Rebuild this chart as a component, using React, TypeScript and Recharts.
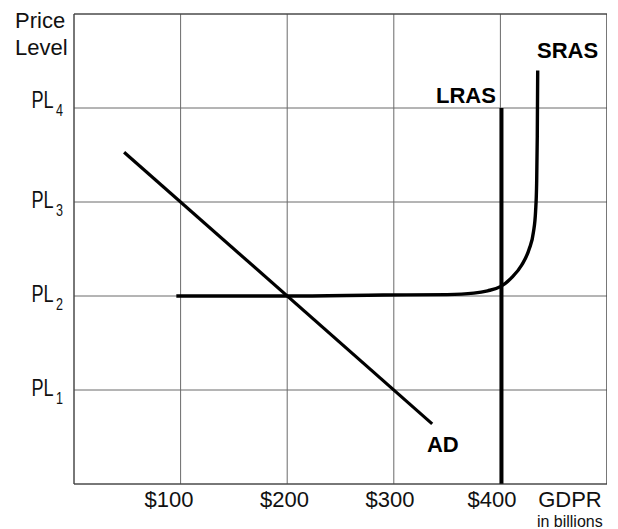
import React from 'react';
import { ComposedChart, Line, XAxis, YAxis, CartesianGrid, ReferenceLine, ReferenceDot } from 'recharts';

// ---- data ----
const xTicks = [100, 200, 300, 400];
const xTickLabels = ['$100', '$200', '$300', '$400'];
const yTicks = [1, 2, 3, 4];
const yTickSubs = ['1', '2', '3', '4'];

const adData = [
  { x: 47, y: 3.53 },
  { x: 336, y: 0.64 },
];

const lrasData = [
  { x: 401, y: 0 },
  { x: 401, y: 4 },
];

const srasData = [
  { x: 96, y: 2.0 },
  { x: 200, y: 2.0 },
  { x: 290, y: 2.01 },
  { x: 350, y: 2.015 },
  { x: 375, y: 2.03 },
  { x: 388, y: 2.055 },
  { x: 400, y: 2.1 },
  { x: 411, y: 2.2 },
  { x: 420, y: 2.33 },
  { x: 427, y: 2.5 },
  { x: 431, y: 2.68 },
  { x: 433, y: 2.9 },
  { x: 434, y: 3.2 },
  { x: 434.6, y: 3.7 },
  { x: 435, y: 4.4 },
];

const curveLabels = [
  { text: 'SRAS', x: 434.3, y: 4.537 },
  { text: 'LRAS', x: 339.6, y: 4.053 },
  { text: 'AD', x: 331.1, y: 0.34 },
];

// ---- style ----
const FONT = '"Liberation Sans", Arial, sans-serif';
const GRID = '#6a6a6a';
const BORDER = '#3a3a3a';
const xLabelDx: Record<number, number> = { 100: -11.5, 200: -2.6, 300: -3.8, 400: -8.4 };

const XTick = (props: any) => {
  const { x, payload } = props;
  const i = xTicks.indexOf(payload.value);
  return (
    <text x={x + (xLabelDx[payload.value] || 0)} y={476 + 23.3} textAnchor="middle" fontFamily={FONT} fontSize={22} fill="#111">
      {xTickLabels[i]}
    </text>
  );
};

const YTick = (props: any) => {
  const { y, payload } = props;
  const i = yTicks.indexOf(payload.value);
  const dy = payload.value === 4 ? 0.3 : 6.4;
  return (
    <g transform={`translate(23.5, ${y + dy}) scale(0.74, 1)`}>
      <text x={0} y={0} fontFamily={FONT} fontSize={24.5} fill="#111">
        PL
        <tspan dx={3} dy={7.4} fontSize={17}>{yTickSubs[i]}</tspan>
      </text>
    </g>
  );
};

const YTitle = (props: any) => {
  const vb = props.viewBox || { x: 0, y: 6 };
  return (
    <g>
      <text x={7} y={vb.y + 14.3} fontFamily={FONT} fontSize={22} fill="#111">Price</text>
      <text x={7} y={vb.y + 41} fontFamily={FONT} fontSize={22} fill="#111">Level</text>
    </g>
  );
};

const XTitle = (props: any) => {
  const vb = props.viewBox || { x: 66, y: 476, width: 533 };
  const right = vb.x + vb.width;
  return (
    <g>
      <text x={right - 5.3} y={476 + 22.7} textAnchor="end" fontFamily={FONT} fontSize={22} fill="#111">GDPR</text>
      <text x={right - 4.3} y={476 + 42.7} textAnchor="end" fontFamily={FONT} fontSize={16} fill="#111">in billions</text>
    </g>
  );
};

const makeLabelShape = (text: string) => (props: any) => (
  <text x={props.cx} y={props.cy} fontFamily={FONT} fontSize={22} fontWeight="bold" fill="#000">
    {text}
  </text>
);

export default function App() {
  return (
    <ComposedChart width={599} height={521} margin={{ top: 6, right: 0, bottom: 0, left: 0 }}>
      <CartesianGrid stroke={GRID} strokeWidth={1} />
      <XAxis
        type="number"
        dataKey="x"
        domain={[0, 500]}
        ticks={xTicks}
        height={45}
        tickSize={0}
        tickLine={false}
        axisLine={{ stroke: BORDER, strokeWidth: 1 }}
        tick={<XTick />}
        label={<XTitle />}
        allowDataOverflow
      />
      <YAxis
        type="number"
        dataKey="y"
        domain={[0, 5]}
        ticks={yTicks}
        width={66}
        tickSize={0}
        tickLine={false}
        axisLine={{ stroke: BORDER, strokeWidth: 1 }}
        tick={<YTick />}
        label={<YTitle />}
        allowDataOverflow
      />
      <ReferenceLine y={5} stroke={BORDER} strokeWidth={1} />
      <ReferenceLine x={500} stroke={BORDER} strokeWidth={1} />
      <Line data={adData} dataKey="y" type="linear" stroke="#000" strokeWidth={3.2} dot={false} isAnimationActive={false} />
      <Line data={srasData} dataKey="y" type="monotone" stroke="#000" strokeWidth={3.4} dot={false} isAnimationActive={false} />
      <Line data={lrasData} dataKey="y" type="linear" stroke="#000" strokeWidth={4} dot={false} isAnimationActive={false} />
      {curveLabels.map((l) => (
        <ReferenceDot key={l.text} x={l.x} y={l.y} r={1} shape={makeLabelShape(l.text)} />
      ))}
    </ComposedChart>
  );
}
